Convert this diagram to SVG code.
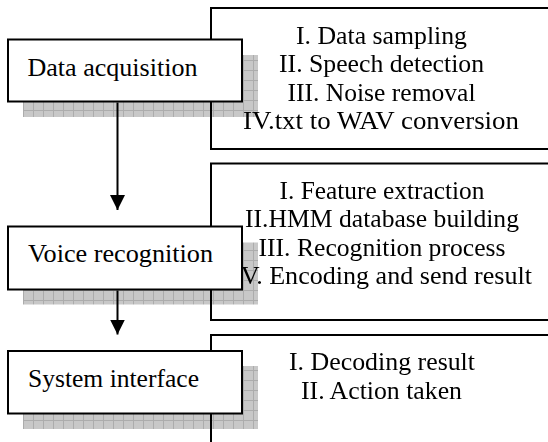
<svg xmlns="http://www.w3.org/2000/svg" width="548" height="442" viewBox="0 0 548 442">
<style>
text{font-family:"Liberation Serif",Tinos,"Noto Serif","Nimbus Roman","Nimbus Roman No9 L",FreeSerif,"Times New Roman",Times,"DejaVu Serif",serif;font-size:24.5px;fill:#000}
.c{text-anchor:middle}
.frame{fill:none;stroke:#000;stroke-width:2}
.box{fill:#fff;stroke:#000;stroke-width:2}
.shadow{fill:url(#grid);mix-blend-mode:multiply}
.conn{stroke:#000;stroke-width:2;fill:none}
</style>
<defs>
<pattern id="grid" patternUnits="userSpaceOnUse" x="23" y="0" width="10" height="10">
<rect width="10" height="10" fill="#c8c8c8"/>
<path d="M0.5 0V10M0 0.5H10" stroke="#acacac" stroke-width="1"/>
</pattern>
<clipPath id="clip2"><rect x="243" y="160" width="305" height="160"/></clipPath>
<marker id="arr" markerWidth="15" markerHeight="15" refX="15" refY="7.5" orient="auto" markerUnits="userSpaceOnUse">
<path d="M0 0L15 7.5L0 15Z" fill="#000"/>
</marker>
</defs>

<g id="detail-acquisition">
<path class="frame" d="M550 8H211V149H550"/>
<text class="c" x="381.5" y="43.5" textLength="171" lengthAdjust="spacingAndGlyphs">I. Data sampling</text>
<text class="c" x="381.5" y="72" textLength="205" lengthAdjust="spacingAndGlyphs">II. Speech detection</text>
<text class="c" x="381.5" y="100.5" textLength="188" lengthAdjust="spacingAndGlyphs">III. Noise removal</text>
<text class="c" x="381" y="128.5" textLength="276" lengthAdjust="spacingAndGlyphs">IV.txt to WAV conversion</text>
</g>

<g id="detail-recognition">
<path class="frame" d="M550 163.5H211V320H550"/>
<g clip-path="url(#clip2)">
<text class="c" x="382" y="198.5" textLength="205" lengthAdjust="spacingAndGlyphs">I. Feature extraction</text>
<text class="c" x="382" y="227" textLength="274" lengthAdjust="spacingAndGlyphs">II.HMM database building</text>
<text class="c" x="382" y="255.5" textLength="247" lengthAdjust="spacingAndGlyphs">III. Recognition process</text>
<text class="c" x="382" y="284" textLength="300" lengthAdjust="spacingAndGlyphs">IV. Encoding and send result</text>
</g>
</g>

<g id="detail-interface">
<path class="frame" d="M550 335H211V444"/>
<text class="c" x="382" y="370" textLength="186" lengthAdjust="spacingAndGlyphs">I. Decoding result</text>
<text class="c" x="381.5" y="399" textLength="161" lengthAdjust="spacingAndGlyphs">II. Action taken</text>
</g>

<g id="data-acquisition">
<rect class="shadow" x="23" y="55" width="235" height="62"/>
<rect class="box" x="8" y="39.5" width="234" height="62"/>
<text x="27.5" y="75.5" textLength="170" lengthAdjust="spacingAndGlyphs">Data acquisition</text>
</g>

<g id="voice-recognition">
<rect class="shadow" x="23" y="242.5" width="235" height="62"/>
<rect class="box" x="8" y="226.5" width="234" height="63"/>
<text x="28" y="261.5" textLength="185" lengthAdjust="spacingAndGlyphs">Voice recognition</text>
</g>

<g id="system-interface">
<rect class="shadow" x="23" y="366" width="235" height="63"/>
<rect class="box" x="8" y="351" width="234" height="62.5"/>
<text x="28" y="386.5" textLength="171" lengthAdjust="spacingAndGlyphs">System interface</text>
</g>

<g id="connectors">
<line class="conn" x1="117.5" y1="102.5" x2="117.5" y2="210" marker-end="url(#arr)"/>
<line class="conn" x1="117.5" y1="290.5" x2="117.5" y2="334.5" marker-end="url(#arr)"/>
</g>
</svg>
